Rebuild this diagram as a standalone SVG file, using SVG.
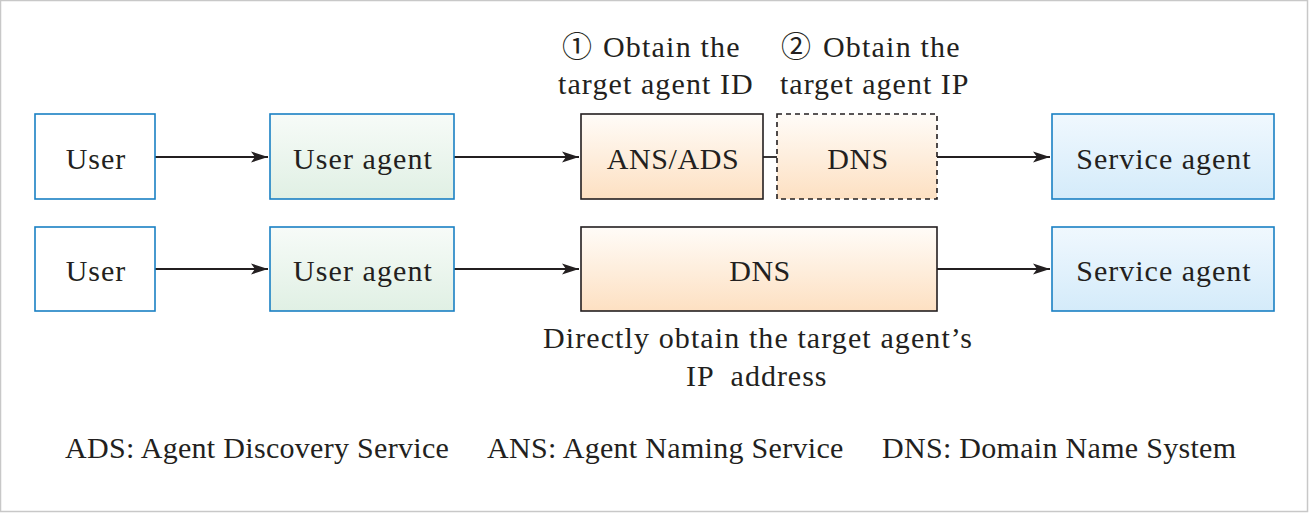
<svg xmlns="http://www.w3.org/2000/svg" width="1309" height="513" viewBox="0 0 1309 513">
<style>
.blue{stroke:#1a80c4;stroke-width:1.6;}
.dark{stroke:#231f20;stroke-width:1.6;}
.c{stroke:#231f20;stroke-width:1.8;fill:none;}
</style>
<defs>
<linearGradient id="gGreen" x1="0" y1="0" x2="0" y2="1"><stop offset="0" stop-color="#f7fbf8"/><stop offset="1" stop-color="#e0f0e4"/></linearGradient>
<linearGradient id="gPeach" x1="0" y1="0" x2="0" y2="1"><stop offset="0" stop-color="#fffcf8"/><stop offset="1" stop-color="#fde0c2"/></linearGradient>
<linearGradient id="gBlue" x1="0" y1="0" x2="0" y2="1"><stop offset="0" stop-color="#f0f8fe"/><stop offset="1" stop-color="#d4ebfa"/></linearGradient>
<marker id="arr" markerWidth="18" markerHeight="12" refX="17" refY="6" orient="auto" markerUnits="userSpaceOnUse"><path d="M0,0.5 L17,6 L0,11.5 L4,6 Z" fill="#231f20"/></marker>
</defs>
<rect x="0.5" y="0.5" width="1307" height="511" fill="#ffffff" stroke="#c8c8c8" stroke-width="1.5"/>
<g id="connectors">
<line class="c" x1="155" y1="157" x2="268" y2="157" marker-end="url(#arr)"/>
<line class="c" x1="454" y1="157" x2="579" y2="157" marker-end="url(#arr)"/>
<line class="c" x1="763" y1="157" x2="777" y2="157"/>
<line class="c" x1="937" y1="157" x2="1050" y2="157" marker-end="url(#arr)"/>
<line class="c" x1="155" y1="269" x2="268" y2="269" marker-end="url(#arr)"/>
<line class="c" x1="454" y1="269" x2="579" y2="269" marker-end="url(#arr)"/>
<line class="c" x1="937" y1="269" x2="1050" y2="269" marker-end="url(#arr)"/>
</g>
<g id="user1"><rect class="blue" x="35" y="114" width="120" height="85" fill="#ffffff"/><text font-family="Liberation Serif, Noto Sans CJK SC, serif" font-size="30" letter-spacing="1" fill="#231f20" text-anchor="middle" x="96" y="169">User</text></g>
<g id="useragent1"><rect class="blue" x="270" y="114" width="184" height="85" fill="url(#gGreen)"/><text font-family="Liberation Serif, Noto Sans CJK SC, serif" font-size="30" letter-spacing="1.1" fill="#231f20" text-anchor="middle" x="363" y="169">User agent</text></g>
<g id="ansads"><rect class="dark" x="581" y="114" width="182" height="85" fill="url(#gPeach)"/><text font-family="Liberation Serif, Noto Sans CJK SC, serif" font-size="30" letter-spacing="0.6" fill="#231f20" text-anchor="middle" x="673" y="169">ANS/ADS</text></g>
<g id="dns1"><rect class="dark" x="777" y="114" width="160" height="85" fill="url(#gPeach)" stroke-dasharray="5,4"/><text font-family="Liberation Serif, Noto Sans CJK SC, serif" font-size="30" letter-spacing="0.5" fill="#231f20" text-anchor="middle" x="858" y="169">DNS</text></g>
<g id="service1"><rect class="blue" x="1052" y="114" width="222" height="85" fill="url(#gBlue)"/><text font-family="Liberation Serif, Noto Sans CJK SC, serif" font-size="30" letter-spacing="1" fill="#231f20" text-anchor="middle" x="1164" y="169">Service agent</text></g>
<g id="user2"><rect class="blue" x="35" y="227" width="120" height="84" fill="#ffffff"/><text font-family="Liberation Serif, Noto Sans CJK SC, serif" font-size="30" letter-spacing="1" fill="#231f20" text-anchor="middle" x="96" y="281">User</text></g>
<g id="useragent2"><rect class="blue" x="270" y="227" width="184" height="84" fill="url(#gGreen)"/><text font-family="Liberation Serif, Noto Sans CJK SC, serif" font-size="30" letter-spacing="1.1" fill="#231f20" text-anchor="middle" x="363" y="281">User agent</text></g>
<g id="dns2"><rect class="dark" x="581" y="227" width="356" height="84" fill="url(#gPeach)"/><text font-family="Liberation Serif, Noto Sans CJK SC, serif" font-size="30" letter-spacing="0.5" fill="#231f20" text-anchor="middle" x="760" y="281">DNS</text></g>
<g id="service2"><rect class="blue" x="1052" y="227" width="222" height="84" fill="url(#gBlue)"/><text font-family="Liberation Serif, Noto Sans CJK SC, serif" font-size="30" letter-spacing="1" fill="#231f20" text-anchor="middle" x="1164" y="281">Service agent</text></g>
<g id="labels">
<text font-family="Noto Sans CJK SC, sans-serif" font-size="30" fill="#231f20" x="562" y="57">①</text>
<text font-family="Liberation Serif, Noto Sans CJK SC, serif" font-size="30" letter-spacing="1.2" fill="#231f20" x="603" y="57">Obtain the</text>
<text font-family="Liberation Serif, Noto Sans CJK SC, serif" font-size="30" letter-spacing="1.1" fill="#231f20" x="558" y="94">target agent ID</text>
<text font-family="Noto Sans CJK SC, sans-serif" font-size="30" fill="#231f20" x="781" y="57">②</text>
<text font-family="Liberation Serif, Noto Sans CJK SC, serif" font-size="30" letter-spacing="1.2" fill="#231f20" x="823" y="57">Obtain the</text>
<text font-family="Liberation Serif, Noto Sans CJK SC, serif" font-size="30" letter-spacing="1" fill="#231f20" x="780" y="94">target agent IP</text>
<text font-family="Liberation Serif, Noto Sans CJK SC, serif" font-size="30" letter-spacing="1.1" fill="#231f20" x="543" y="348">Directly obtain the target agent’s</text>
<text font-family="Liberation Serif, Noto Sans CJK SC, serif" font-size="30" letter-spacing="1" fill="#231f20" x="686" y="386" xml:space="preserve">IP  address</text>
<text font-family="Liberation Serif, Noto Sans CJK SC, serif" font-size="30" letter-spacing="0.3" fill="#231f20" x="65" y="458">ADS: Agent Discovery Service</text>
<text font-family="Liberation Serif, Noto Sans CJK SC, serif" font-size="30" letter-spacing="0.3" fill="#231f20" x="487" y="458">ANS: Agent Naming Service</text>
<text font-family="Liberation Serif, Noto Sans CJK SC, serif" font-size="30" letter-spacing="0.3" fill="#231f20" x="882" y="458">DNS: Domain Name System</text>
</g>
</svg>
